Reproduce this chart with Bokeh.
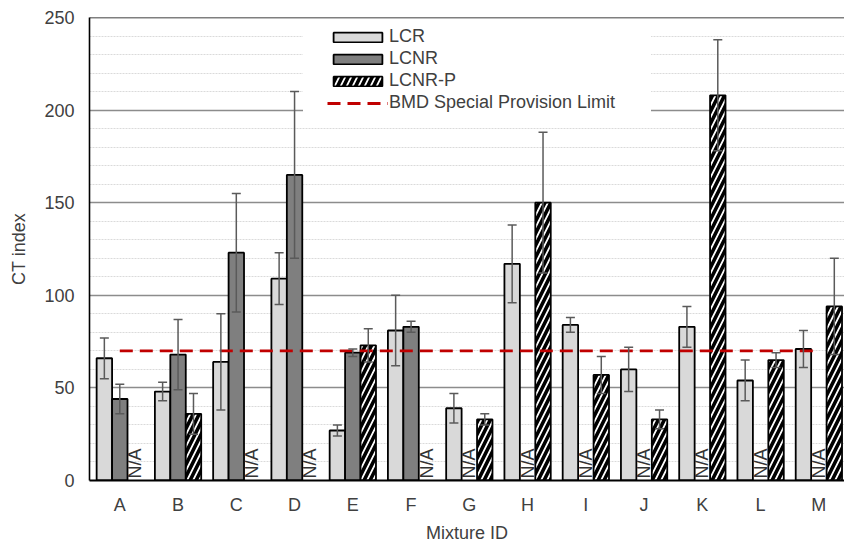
import numpy as np
from bokeh.plotting import figure
from bokeh.models import (ColumnDataSource, Range1d, SingleIntervalTicker, FixedTicker,
                          Whisker, TeeHead, Legend, LegendItem, Span)
from bokeh.core.properties import value
from bokeh.embed import file_html
from bokeh.resources import INLINE

# ---------------- data ----------------
mixtures = ["A", "B", "C", "D", "E", "F", "G", "H", "I", "J", "K", "L", "M"]
lcr = [66, 48, 64, 109, 27, 81, 39, 117, 84, 60, 83, 54, 71]
lcr_err = [11, 5, 26, 14, 3, 19, 8, 21, 4, 12, 11, 11, 10]
lcnr = [44, 68, 123, 165, 69, 83, None, None, None, None, None, None, None]
lcnr_err = [8, 19, 32, 45, 2, 3, None, None, None, None, None, None, None]
lcnr_p = [None, 36, None, None, 73, None, 33, 150, 57, 33, 208, 65, 94]
lcnr_p_err = [None, 11, None, None, 9, None, 3, 38, 10, 5, 30, 4, 26]
bmd_limit = 70
series_names = ["LCR", "LCNR", "LCNR-P"]
limit_name = "BMD Special Provision Limit"
y_ticks = [0, 50, 100, 150, 200, 250]
na_label = "N/A"

FONT = "Liberation Sans"
TXT = "#404040"

centers = np.arange(len(mixtures)) + 0.5
bw = 0.265
offsets = [-bw, 0.0, bw]

p = figure(width=844, height=546, output_backend="svg", toolbar_location=None,
           x_range=Range1d(-0.02, 12.94), y_range=Range1d(y_ticks[0], y_ticks[-1]),
           min_border_left=89, min_border_right=0, min_border_top=17, min_border_bottom=66)
p.outline_line_color = None
p.background_fill_color = "white"
p.border_fill_color = "white"

# grid
p.xgrid.visible = False
p.yaxis.ticker = SingleIntervalTicker(interval=50, num_minor_ticks=5)
p.ygrid.ticker = p.yaxis.ticker
p.ygrid.grid_line_color = "#8C8C8C"
p.ygrid.grid_line_width = 1.3
p.ygrid.minor_grid_line_color = "#DADADA"
p.ygrid.minor_grid_line_width = 1
p.ygrid.minor_grid_line_dash = "2 1"

# axes
p.xaxis.ticker = FixedTicker(ticks=list(centers))
p.xaxis.major_label_overrides = {float(c): m for c, m in zip(centers, mixtures)}
for ax in (p.xaxis[0], p.yaxis[0]):
    ax.major_tick_out = 0
    ax.major_tick_in = 0
    ax.minor_tick_out = 0
    ax.minor_tick_in = 0
    ax.axis_line_color = "black"
    ax.major_label_text_font = FONT
    ax.major_label_text_font_size = "18px"
    ax.major_label_text_color = TXT
    ax.axis_label_text_font = FONT
    ax.axis_label_text_font_size = "18px"
    ax.axis_label_text_font_style = "normal"
    ax.axis_label_text_color = TXT
p.xaxis.axis_line_width = 2.2
p.yaxis.axis_line_width = 1.6
p.xaxis.axis_label = "Mixture ID"
p.yaxis.axis_label = "CT index"
p.xaxis.major_label_standoff = 14
p.xaxis.axis_label_standoff = 5
p.yaxis.major_label_standoff = 15
p.yaxis.axis_label_standoff = 12

# top border
p.add_layout(Span(location=y_ticks[-1], dimension="width", line_color="black", line_width=1.5))


def make_source(vals, errs, off):
    rows = [(c + off, v, v - e, v + e) for c, v, e in zip(centers, vals, errs) if v is not None]
    xs, ys, lo, hi = zip(*rows)
    return ColumnDataSource(dict(x=list(xs), top=list(ys), lower=list(lo), upper=list(hi)))


styles = [
    dict(fill_color="#D9D9D9"),
    dict(fill_color="#7F7F7F"),
    dict(fill_color="white", hatch_pattern="/", hatch_color="black",
         hatch_weight=3.6, hatch_scale=12),
]
all_vals = [lcr, lcnr, lcnr_p]
all_errs = [lcr_err, lcnr_err, lcnr_p_err]
renderers = []
sources = []
for vals, errs, off, st in zip(all_vals, all_errs, offsets, styles):
    src = make_source(vals, errs, off)
    sources.append(src)
    r = p.vbar(x="x", top="top", width=bw, source=src, line_color="black",
               line_width=1.8, **st)
    renderers.append(r)

# limit line
line_r = p.line(x=[centers[0], centers[-1]], y=[bmd_limit, bmd_limit],
                line_color="#C00000", line_width=2.8, line_dash="13 7")

# error bars
EB = "#5A5A5A"
for src in sources:
    w = Whisker(base="x", upper="upper", lower="lower", source=src, level="annotation",
                line_color=EB, line_width=1.5,
                upper_head=TeeHead(size=9, line_color=EB, line_width=1.5),
                lower_head=TeeHead(size=9, line_color=EB, line_width=1.5))
    p.add_layout(w)

# N/A labels
na_x = [c + off for vals, off in zip(all_vals, offsets)
        for c, v in zip(centers, vals) if v is None]
na_src = ColumnDataSource(dict(x=na_x, y=[0] * len(na_x), t=[na_label] * len(na_x)))
p.text(x="x", y="y", text="t", source=na_src, angle=np.pi / 2,
       text_align="left", text_baseline="middle", y_offset=-2,
       text_font=value(FONT), text_font_size="18px", text_color="#333333")

# legend
items = [LegendItem(label=n, renderers=[r]) for n, r in zip(series_names, renderers)]
items.append(LegendItem(label=limit_name, renderers=[line_r]))
legend = Legend(items=items, location=(214, 367), orientation="vertical",
                title=" ", title_location="left", title_text_font_size="12px",
                title_standoff=10,
                padding=8, spacing=1, margin=0,
                glyph_width=61, glyph_height=12, label_height=20, label_standoff=1,
                label_width=262,
                label_text_font=FONT, label_text_font_size="18px", label_text_color=TXT,
                background_fill_color="white", background_fill_alpha=1.0,
                border_line_color=None)
p.add_layout(legend)

open("out.html", "w").write(file_html(p, INLINE))
